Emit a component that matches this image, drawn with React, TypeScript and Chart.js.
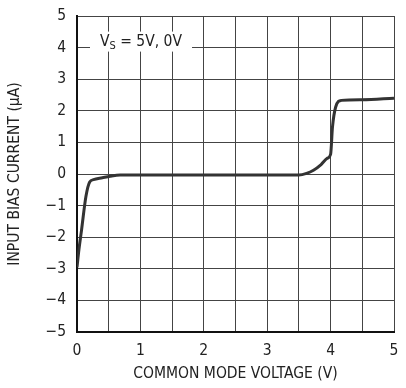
import React, { useEffect, useRef } from "react";
import { Chart, registerables } from "chart.js";

Chart.register(...registerables);

const voltage = [0, 0.03, 0.07, 0.14, 0.2, 0.26, 0.4, 0.52, 0.68, 1.0, 2.0, 3.0, 3.5, 3.62, 3.73, 3.85, 3.95, 4.0, 4.03, 4.08, 4.17, 4.5, 5.0];
const biasCurrent = [-2.95, -2.4, -1.8, -0.72, -0.25, -0.18, -0.12, -0.07, -0.03, -0.03, -0.03, -0.03, -0.03, 0.02, 0.12, 0.3, 0.5, 0.62, 1.49, 2.12, 2.33, 2.35, 2.4];
const yTicks = [-5, -4, -3, -2, -1, 0, 1, 2, 3, 4, 5];
const xTickLabels = ["0", "1", "2", "3", "4", "5"];

const FONT = "'DejaVu Sans Condensed', 'Liberation Sans Narrow', sans-serif";

const annotationPlugin = {
  id: "vsNote",
  afterDraw(chart: any) {
    const { ctx, scales } = chart;
    const x0 = scales.x.getPixelForValue(0) + 23;
    const y4 = scales.y.getPixelForValue(4);
    ctx.save();
    const t1 = "V";
    const t3 = " = 5V, 0V";
    ctx.font = `15.5px ${FONT}`;
    const w1 = ctx.measureText(t1).width;
    ctx.font = `11px ${FONT}`;
    const w2 = ctx.measureText("S").width;
    ctx.font = `15.5px ${FONT}`;
    const w3 = ctx.measureText(t3).width;
    const total = w1 + w2 + w3;
    const pad = 10;
    ctx.fillStyle = "#fff";
    ctx.fillRect(x0 - pad, y4 - 16, total + pad * 2, 20);
    ctx.fillStyle = "#222";
    ctx.textBaseline = "alphabetic";
    const base = y4 - 2;
    ctx.font = `15.5px ${FONT}`;
    ctx.fillText(t1, x0, base);
    ctx.font = `11px ${FONT}`;
    ctx.fillText("S", x0 + w1, base + 3);
    ctx.font = `15.5px ${FONT}`;
    ctx.fillText(t3, x0 + w1 + w2, base);
    ctx.restore();
  },
};

export default function App() {
  const ref = useRef<HTMLCanvasElement>(null);
  useEffect(() => {
    document.body.style.margin = "0";
    const points = voltage.map((v, i) => ({ x: v, y: biasCurrent[i] }));
    const chart = new Chart(ref.current!, {
      type: "line",
      data: {
        datasets: [
          {
            data: points,
            borderColor: "#333",
            borderWidth: 3,
            pointRadius: 0,
            cubicInterpolationMode: "monotone",
            fill: false,
          },
        ],
      },
      options: {
        animation: false,
        responsive: false,
        maintainAspectRatio: false,
        layout: { padding: { top: 16, right: 12, left: 0, bottom: 0 } },
        plugins: { legend: { display: false }, tooltip: { enabled: false } },
        scales: {
          x: {
            type: "linear",
            min: 0,
            max: 5,
            ticks: {
              stepSize: 0.5,
              autoSkip: false,
              maxRotation: 0,
              padding: 10,
              color: "#222",
              font: { family: FONT, size: 15.5 },
              callback: (v: any) => (Number.isInteger(v) ? xTickLabels[v] : ""),
            },
            grid: { color: "#444", lineWidth: 1, drawTicks: false },
            border: { color: "#111", width: 2 },
            title: {
              display: true,
              text: "COMMON MODE VOLTAGE (V)",
              color: "#222",
              font: { family: FONT, size: 15.5 },
              padding: { top: 0, bottom: 5 },
            },
            afterFit: (s: any) => {
              s.height = 56;
              s.paddingLeft = 0;
              s.paddingRight = 0;
            },
          },
          y: {
            min: -5,
            max: 5,
            afterBuildTicks: (s: any) => {
              s.ticks = yTicks.map((v) => ({ value: v }));
            },
            ticks: {
              padding: 11,
              color: "#222",
              font: { family: FONT, size: 15.5 },
              callback: (v: any) => (v < 0 ? "\u2212" + Math.abs(v) : String(v)),
            },
            grid: { color: "#444", lineWidth: 1, drawTicks: false },
            border: { color: "#111", width: 2 },
            title: {
              display: true,
              text: "INPUT BIAS CURRENT (\u00b5A)",
              color: "#222",
              font: { family: FONT, size: 15.5 },
              padding: { top: 6, bottom: 0 },
            },
            afterFit: (s: any) => {
              s.width = 77;
              s.paddingTop = 0;
              s.paddingBottom = 0;
            },
          },
        },
      },
      plugins: [annotationPlugin],
    });
    return () => chart.destroy();
  }, []);
  return (
    <div style={{ width: 406, height: 388, background: "#fff" }}>
      <canvas ref={ref} width={406} height={388} style={{ display: "block" }} />
    </div>
  );
}
